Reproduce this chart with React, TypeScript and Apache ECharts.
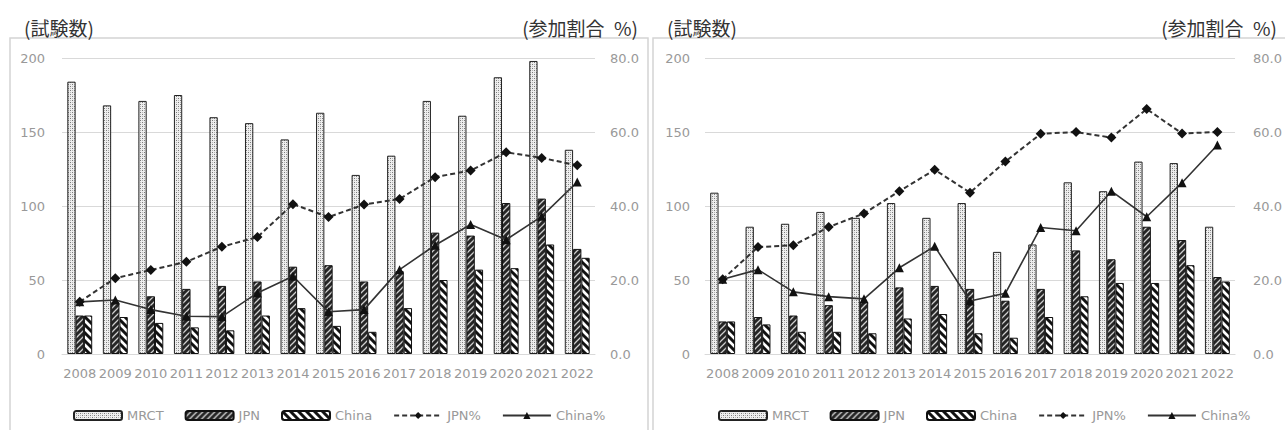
import React, { useEffect, useRef } from "react";
import * as echarts from "echarts";

const years = ["2008", "2009", "2010", "2011", "2012", "2013", "2014", "2015", "2016", "2017", "2018", "2019", "2020", "2021", "2022"];

// Left chart
const leftMRCT = [184, 168, 171, 175, 160, 156, 145, 163, 121, 134, 171, 161, 187, 198, 138];
const leftJPN = [26, 35, 39, 44, 46, 49, 59, 60, 49, 56, 82, 80, 102, 105, 71];
const leftChina = [26, 25, 21, 18, 16, 26, 31, 19, 15, 31, 50, 57, 58, 74, 65];
const leftJPNPct = [14.1, 20.5, 22.7, 24.9, 29.0, 31.6, 40.5, 37.0, 40.4, 41.9, 47.8, 49.6, 54.5, 53.0, 51.0];
const leftChinaPct = [14.1, 14.6, 12.0, 10.2, 10.1, 16.5, 21.0, 11.4, 12.0, 22.8, 29.4, 35.0, 30.9, 37.2, 46.5];

// Right chart
const rightMRCT = [109, 86, 88, 96, 92, 102, 92, 102, 69, 74, 116, 110, 130, 129, 86];
const rightJPN = [22, 25, 26, 33, 35, 45, 46, 44, 36, 44, 70, 64, 86, 77, 52];
const rightChina = [22, 20, 15, 15, 14, 24, 27, 14, 11, 25, 39, 48, 48, 60, 49];
const rightJPNPct = [20.2, 28.9, 29.4, 34.3, 38.0, 44.0, 49.8, 43.6, 52.0, 59.5, 60.0, 58.5, 66.2, 59.6, 60.0];
const rightChinaPct = [20.2, 22.8, 16.8, 15.5, 14.9, 23.3, 29.1, 14.3, 16.4, 34.2, 33.3, 44.0, 37.1, 46.3, 56.5];

const countTicks = [0, 50, 100, 150, 200];
const pctTicks = [0, 20, 40, 60, 80];

const seriesNames = ["MRCT", "JPN", "China", "JPN%", "China%"];
const leftTitle = "(試験数)";
const rightTitle = "(参加割合\u2002%)";

function makeCanvas(w: number, h: number, draw: (ctx: CanvasRenderingContext2D) => void) {
  const c = document.createElement("canvas");
  c.width = w;
  c.height = h;
  const ctx = c.getContext("2d")!;
  draw(ctx);
  return c.toDataURL();
}

export default function App() {
  const ref = useRef<HTMLDivElement>(null);

  useEffect(() => {
    if (!ref.current) return;
    const chart = echarts.init(ref.current, null, { renderer: "svg" });

    const mrctImg = makeCanvas(4, 4, (ctx) => {
      ctx.fillStyle = "#eeeeee";
      ctx.fillRect(0, 0, 4, 4);
      ctx.fillStyle = "#7a7a7a";
      ctx.fillRect(0, 0, 1, 1);
      ctx.fillRect(2, 2, 1, 1);
      ctx.fillStyle = "#b4b4b4";
      ctx.fillRect(2, 0, 1, 1);
      ctx.fillRect(0, 2, 1, 1);
    });
    const jpnImg = makeCanvas(6, 6, (ctx) => {
      ctx.fillStyle = "#262626";
      ctx.fillRect(0, 0, 6, 6);
      ctx.strokeStyle = "#d0d0d0";
      ctx.lineWidth = 1.3;
      ctx.beginPath();
      for (const o of [-6, 0, 6]) {
        ctx.moveTo(o - 1, 7);
        ctx.lineTo(o + 7, -1);
      }
      ctx.stroke();
    });
    const chinaImg = makeCanvas(8, 8, (ctx) => {
      ctx.fillStyle = "#ffffff";
      ctx.fillRect(0, 0, 8, 8);
      ctx.strokeStyle = "#111111";
      ctx.lineWidth = 3;
      ctx.beginPath();
      for (const o of [-8, 0, 8]) {
        ctx.moveTo(o - 1, -1);
        ctx.lineTo(o + 9, 9);
      }
      ctx.stroke();
    });

    const pattern = (img: string, s: number) => ({ image: img, repeat: "repeat", imageWidth: s, imageHeight: s });

    const labelFont = "DejaVu Sans";
    const grey = "#999999";
    const gridLine = "#d9d9d9";

    const grids = [
      { left: 62, right: 1285 - 595, top: 58, bottom: 430 - 354 },
      { left: 705, right: 1285 - 1237, top: 58, bottom: 430 - 354 },
    ];

    const xAxes = grids.map((_, i) => ({
      type: "category",
      gridIndex: i,
      data: years,
      axisLine: { show: true, lineStyle: { color: gridLine, width: 1 } },
      axisTick: { show: false },
      axisLabel: { interval: 0, color: grey, fontSize: 13, fontFamily: labelFont, margin: 13 },
    }));

    const yAxes: any[] = [];
    grids.forEach((_, i) => {
      yAxes.push({
        type: "value",
        gridIndex: i,
        position: "left",
        min: countTicks[0],
        max: countTicks[countTicks.length - 1],
        interval: 50,
        axisLine: { show: false },
        axisTick: { show: false },
        axisLabel: { color: grey, fontSize: 13, fontFamily: labelFont, margin: i === 0 ? 17 : 15 },
        splitLine: { show: true, lineStyle: { color: gridLine, width: 1 } },
      });
      yAxes.push({
        type: "value",
        gridIndex: i,
        position: "right",
        min: pctTicks[0],
        max: pctTicks[pctTicks.length - 1],
        interval: 20,
        axisLine: { show: false },
        axisTick: { show: false },
        axisLabel: {
          color: grey,
          fontSize: 13,
          fontFamily: labelFont,
          margin: i === 0 ? 15 : 18,
          formatter: (v: number) => v.toFixed(1),
        },
        splitLine: { show: false },
      });
    });

    const datasets = [
      [leftMRCT, leftJPN, leftChina, leftJPNPct, leftChinaPct],
      [rightMRCT, rightJPN, rightChina, rightJPNPct, rightChinaPct],
    ];

    const series: any[] = [];
    datasets.forEach((d, i) => {
      const barBase = { type: "bar", xAxisIndex: i, yAxisIndex: i * 2, barWidth: 8.3, barGap: "0%" };
      series.push({
        ...barBase,
        name: seriesNames[0],
        data: d[0],
        itemStyle: { color: pattern(mrctImg, 4), borderColor: "#222", borderWidth: 1 },
      });
      series.push({
        ...barBase,
        name: seriesNames[1],
        data: d[1],
        itemStyle: { color: pattern(jpnImg, 6), borderColor: "#111", borderWidth: 1 },
      });
      series.push({
        ...barBase,
        name: seriesNames[2],
        data: d[2],
        itemStyle: { color: pattern(chinaImg, 8), borderColor: "#111", borderWidth: 1 },
      });
      series.push({
        type: "line",
        name: seriesNames[3],
        xAxisIndex: i,
        yAxisIndex: i * 2 + 1,
        data: d[3],
        symbol: "diamond",
        symbolSize: 10,
        z: 5,
        itemStyle: { color: "#111" },
        lineStyle: { color: "#333", width: 2, type: [5, 3] },
      });
      series.push({
        type: "line",
        name: seriesNames[4],
        xAxisIndex: i,
        yAxisIndex: i * 2 + 1,
        data: d[4],
        symbol: "triangle",
        symbolSize: 9,
        z: 5,
        itemStyle: { color: "#111" },
        lineStyle: { color: "#333", width: 1.6, type: "solid" },
      });
    });

    const legendBase = {
      orient: "horizontal",
      top: 404,
      itemWidth: 48,
      itemHeight: 9,
      itemGap: 21,
      data: seriesNames,
      textStyle: { color: grey, fontSize: 13, fontFamily: labelFont },
      selectedMode: false,
    };

    const titleFont = { fontSize: 19, fontFamily: "Noto Sans CJK JP", fontWeight: "normal", fill: "#333" };

    chart.setOption({
      animation: false,
      backgroundColor: "#ffffff",
      grid: grids,
      xAxis: xAxes,
      yAxis: yAxes,
      series,
      legend: [
        { ...legendBase, left: 68 },
        { ...legendBase, left: 713 },
      ],
      graphic: [
        { type: "rect", shape: { x: 10, y: 38, width: 638, height: 420 }, style: { fill: "none", stroke: "#d4d4d4", lineWidth: 1.5 }, silent: true },
        { type: "rect", shape: { x: 653, y: 38, width: 660, height: 420 }, style: { fill: "none", stroke: "#d4d4d4", lineWidth: 1.5 }, silent: true },
        { type: "text", x: 24, y: 27, style: { ...titleFont, text: leftTitle, textAlign: "left", textVerticalAlign: "middle" } },
        { type: "text", x: 638, y: 27, style: { ...titleFont, text: rightTitle, textAlign: "right", textVerticalAlign: "middle" } },
        { type: "text", x: 667, y: 27, style: { ...titleFont, text: leftTitle, textAlign: "left", textVerticalAlign: "middle" } },
        { type: "text", x: 1277, y: 27, style: { ...titleFont, text: rightTitle, textAlign: "right", textVerticalAlign: "middle" } },
      ],
    });

    return () => chart.dispose();
  }, []);

  return <div ref={ref} style={{ position: "fixed", left: 0, top: 0, width: 1285, height: 430, background: "#fff" }} />;
}
